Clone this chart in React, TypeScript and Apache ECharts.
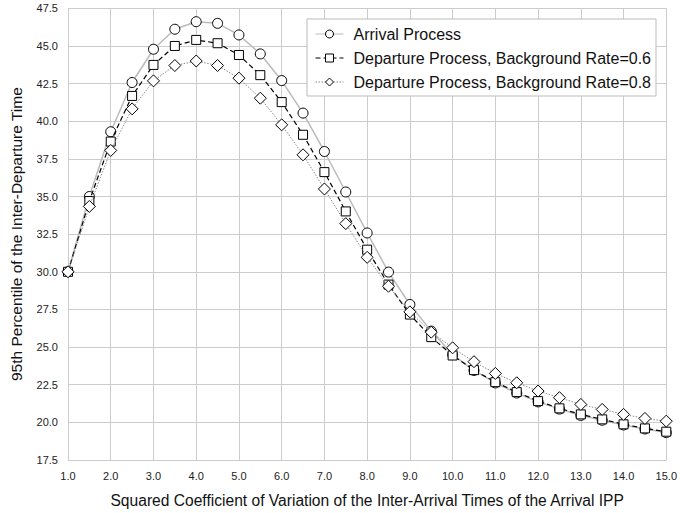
import React, { useEffect, useRef } from "react";
import * as echarts from "echarts";

const xValues = [1.0, 1.5, 2.0, 2.5, 3.0, 3.5, 4.0, 4.5, 5.0, 5.5, 6.0, 6.5, 7.0, 7.5, 8.0, 8.5, 9.0, 9.5, 10.0, 10.5, 11.0, 11.5, 12.0, 12.5, 13.0, 13.5, 14.0, 14.5, 15.0];
const arrival = [30.0, 35.0, 39.3, 42.57, 44.78, 46.11, 46.61, 46.5, 45.73, 44.47, 42.7, 40.54, 37.99, 35.3, 32.58, 29.98, 27.83, 26.06, 24.5, 23.45, 22.62, 21.95, 21.36, 20.88, 20.46, 20.14, 19.83, 19.56, 19.32];
const departure06 = [30.0, 34.7, 38.65, 41.68, 43.74, 45.0, 45.4, 45.18, 44.4, 43.06, 41.27, 39.1, 36.62, 34.01, 31.47, 29.15, 27.16, 25.66, 24.44, 23.47, 22.67, 22.01, 21.41, 20.93, 20.53, 20.2, 19.87, 19.6, 19.38];
const departure08 = [30.0, 34.34, 38.06, 40.82, 42.68, 43.7, 44.0, 43.7, 42.86, 41.53, 39.76, 37.77, 35.5, 33.2, 30.96, 29.04, 27.34, 25.99, 24.95, 24.03, 23.25, 22.63, 22.08, 21.64, 21.19, 20.86, 20.53, 20.26, 20.08];
const seriesNames = [
  "Arrival Process",
  "Departure Process, Background Rate=0.6",
  "Departure Process, Background Rate=0.8",
];
const xTitle = "Squared Coefficient of Variation of the Inter-Arrival Times of the Arrival IPP";
const yTitle = "95th Percentile of the Inter-Departure Time";

const FONT = "'Liberation Sans', Arial, Helvetica, sans-serif";

export default function App() {
  const ref = useRef<HTMLDivElement>(null);
  useEffect(() => {
    document.body.style.margin = "0";
    const chart = echarts.init(ref.current!, null, { renderer: "svg" });
    const pair = (ys: number[]) => xValues.map((x, i) => [x, ys[i]]);
    const markerStyle = { color: "#ffffff", borderColor: "#000000", borderWidth: 1 };
    chart.setOption({
      animation: false,
      backgroundColor: "#ffffff",
      textStyle: { fontFamily: FONT },
      grid: { left: 66.7, right: 11.3, top: 8.3, bottom: 51.5, containLabel: false },
      legend: {
        left: 307,
        top: 19,
        orient: "vertical",
        backgroundColor: "#ffffff",
        borderColor: "#bbbbbb",
        borderWidth: 1,
        borderRadius: 0,
        padding: [7, 5, 6, 8],
        itemGap: 8,
        itemWidth: 28,
        itemHeight: 10,
        itemStyle: { borderWidth: 1 },
        lineStyle: { width: 1 },
        textStyle: { fontFamily: FONT, fontSize: 16, color: "#111111", padding: [0, 0, 0, 5] },
        data: seriesNames,
      },
      xAxis: {
        type: "value",
        min: 1,
        max: 15,
        interval: 1,
        name: xTitle,
        nameLocation: "middle",
        nameGap: 32,
        nameTextStyle: { fontFamily: FONT, fontSize: 15.6, color: "#111111" },
        axisLine: { show: false },
        axisTick: { show: false },
        axisLabel: {
          margin: 10,
          fontFamily: FONT,
          fontSize: 11,
          color: "#222222",
          formatter: (v: number) => v.toFixed(1),
        },
        splitLine: { show: true, lineStyle: { color: "#cccccc", width: 1 } },
      },
      yAxis: {
        type: "value",
        min: 17.5,
        max: 47.5,
        interval: 2.5,
        name: yTitle,
        nameLocation: "middle",
        nameGap: 44,
        nameTextStyle: { fontFamily: FONT, fontSize: 15.5, color: "#111111" },
        axisLine: { show: false },
        axisTick: { show: false },
        axisLabel: {
          margin: 10,
          fontFamily: FONT,
          fontSize: 11,
          color: "#222222",
          formatter: (v: number) => v.toFixed(1),
        },
        splitLine: { show: true, lineStyle: { color: "#cccccc", width: 1 } },
      },
      series: [
        {
          name: seriesNames[0],
          type: "line",
          data: pair(arrival),
          symbol: "circle",
          symbolSize: 10,
          showAllSymbol: true,
          lineStyle: { color: "#bbbbbb", width: 1.5, type: "solid" },
          itemStyle: markerStyle,
          z: 2,
        },
        {
          name: seriesNames[1],
          type: "line",
          data: pair(departure06),
          symbol: "rect",
          symbolSize: 9,
          showAllSymbol: true,
          lineStyle: { color: "#000000", width: 1.2, type: [5, 3] },
          itemStyle: markerStyle,
          z: 3,
        },
        {
          name: seriesNames[2],
          type: "line",
          data: pair(departure08),
          symbol: "diamond",
          symbolSize: 12,
          showAllSymbol: true,
          lineStyle: { color: "#888888", width: 1, type: [1.5, 1.5] },
          itemStyle: markerStyle,
          z: 4,
        },
      ],
    });
    return () => chart.dispose();
  }, []);
  return <div ref={ref} style={{ width: 680, height: 513 }} />;
}
